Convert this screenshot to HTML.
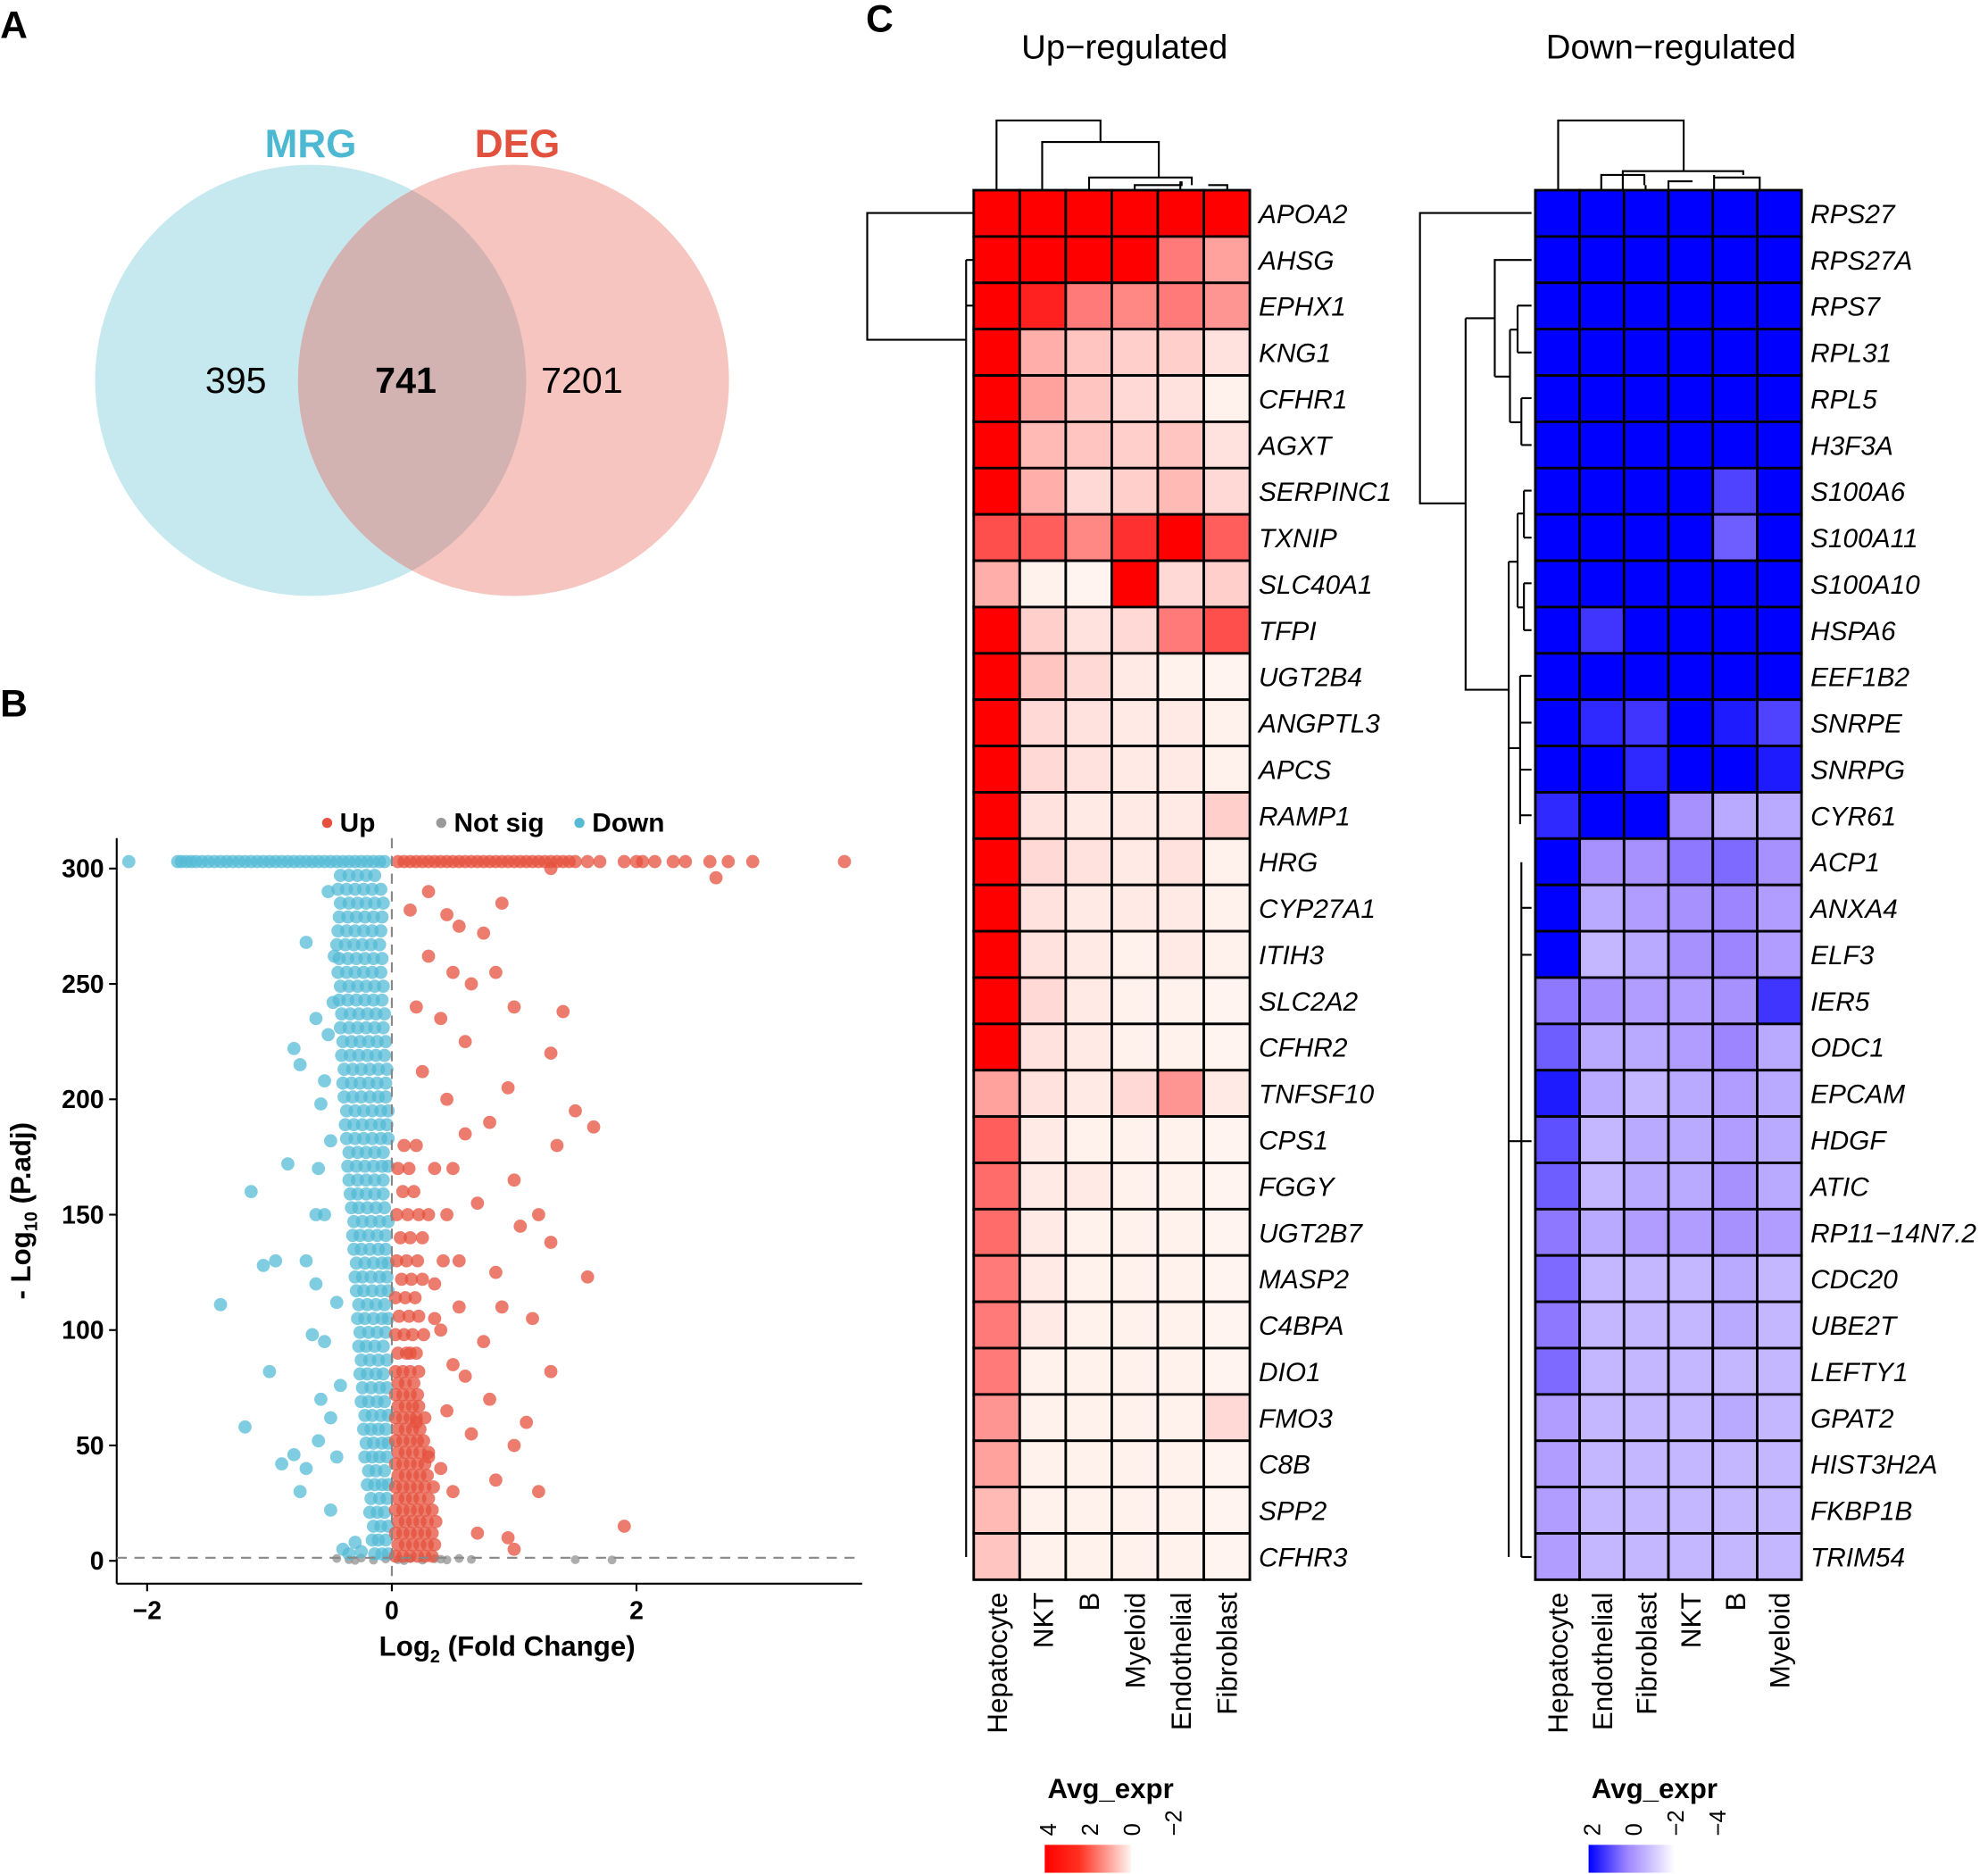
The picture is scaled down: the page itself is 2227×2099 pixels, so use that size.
<!DOCTYPE html>
<html><head><meta charset="utf-8"><style>
html,body{margin:0;padding:0;background:#fff}
svg{display:block}
text{font-family:"Liberation Sans",Arial,sans-serif}
</style></head><body>
<svg id="fig" xmlns="http://www.w3.org/2000/svg" width="2227" height="2099" viewBox="0 0 1568 1478">
<rect width="1568" height="1478" fill="#fff"/>
<g font-size="30" font-weight="bold">
<text x="0" y="30">A</text>
<text x="0" y="565">B</text>
<text x="683" y="25">C</text>
</g>
<g>
<circle cx="245" cy="300" r="170" fill="#c6e8ef"/>
<circle cx="405" cy="300" r="170" fill="#f6c5bf"/>
<clipPath id="cp"><circle cx="245" cy="300" r="170"/></clipPath>
<circle cx="405" cy="300" r="170" fill="#d3b3b2" clip-path="url(#cp)"/>
<text x="245" y="124" font-size="31" font-weight="bold" fill="#4cb8d2" text-anchor="middle">MRG</text>
<text x="408" y="124" font-size="31" font-weight="bold" fill="#e2513d" text-anchor="middle">DEG</text>
<text x="186" y="310" font-size="29" text-anchor="middle">395</text>
<text x="320" y="310" font-size="29" font-weight="bold" text-anchor="middle">741</text>
<text x="459" y="310" font-size="29" text-anchor="middle">7201</text>
</g>
<g id="volcano"></g>
<g id="heat"></g>
</svg>
<script>
// ---------- Volcano data ----------
const volXTicks=[-2,0,2];
const volYTicks=[0,50,100,150,200,250,300];
const downPts="-2.15,303;-1.75,303;-1.72,303;-1.68,303;-1.64,303;-1.6,303;-1.55,303;-1.5,303;-1.45,303;-1.4,303;-1.35,303;-1.3,303;-1.25,303;-1.2,303;-1.15,303;-1.1,303;-1.05,303;-1.0,303;-0.95,303;-0.9,303;-0.85,303;-0.8,303;-0.75,303;-0.7,303;-0.65,303;-0.6,303;-0.55,303;-0.5,303;-0.45,303;-0.4,303;-0.35,303;-0.3,303;-0.25,303;-0.2,303;-0.15,303;-0.1,303;-0.06,303;-1.4,111;-1.0,82;-1.2,58;-0.95,130;-1.05,128;-1.15,160;-0.85,172;-0.75,215;-0.7,268;-0.8,222;-0.62,235;-0.55,150;-0.65,98;-0.5,62;-0.8,46;-0.7,40;-0.9,42;-0.55,208;-0.62,120;-0.5,182;-0.47,262;-0.52,290;-0.48,242;-0.58,70;-0.7,130;-0.45,112;-0.42,76;-0.5,22;-0.6,52;-0.75,30;-0.45,45;-0.55,95;-0.6,170;-0.58,198;-0.52,228;-0.62,150;-0.4,5;-0.35,3;-0.3,8;-0.25,4";
const downBand="3:-0.14 -0.08 -0.03|9:-0.16 -0.11 -0.05|15:-0.15 -0.09 -0.03|21:-0.18 -0.12 -0.06|27:-0.17 -0.1 -0.04|33:-0.2 -0.14 -0.08 -0.03|39:-0.19 -0.13 -0.06|45:-0.22 -0.16 -0.1 -0.04|51:-0.21 -0.15 -0.08 -0.03|57:-0.23 -0.17 -0.11 -0.05|63:-0.22 -0.16 -0.09 -0.03|69:-0.25 -0.19 -0.12 -0.06|75:-0.24 -0.17 -0.1 -0.04|81:-0.26 -0.2 -0.13 -0.07|87:-0.25 -0.18 -0.11 -0.04|93:-0.27 -0.21 -0.14 -0.07|99:-0.26 -0.19 -0.12 -0.05|105:-0.28 -0.22 -0.15 -0.08 -0.03|111:-0.27 -0.2 -0.13 -0.06|117:-0.29 -0.23 -0.16 -0.09 -0.03|123:-0.3 -0.24 -0.17 -0.1 -0.04|129:-0.29 -0.22 -0.15 -0.08 -0.03|135:-0.31 -0.25 -0.18 -0.11 -0.05|141:-0.32 -0.26 -0.19 -0.12 -0.05|147:-0.31 -0.24 -0.17 -0.1 -0.03|153:-0.33 -0.27 -0.2 -0.13 -0.06|159:-0.34 -0.28 -0.21 -0.14 -0.07|165:-0.35 -0.28 -0.21 -0.14 -0.07|171:-0.36 -0.29 -0.22 -0.15 -0.08 -0.03|177:-0.35 -0.28 -0.21 -0.14 -0.07|183:-0.37 -0.3 -0.23 -0.16 -0.09 -0.03|189:-0.38 -0.31 -0.24 -0.17 -0.1 -0.04|195:-0.37 -0.3 -0.23 -0.16 -0.09 -0.03|201:-0.39 -0.32 -0.25 -0.18 -0.11 -0.05|207:-0.4 -0.33 -0.26 -0.19 -0.12 -0.05|213:-0.39 -0.32 -0.25 -0.18 -0.11 -0.04|219:-0.41 -0.34 -0.27 -0.2 -0.13 -0.06|225:-0.4 -0.33 -0.26 -0.19 -0.12 -0.05|231:-0.42 -0.35 -0.28 -0.21 -0.14 -0.07|237:-0.41 -0.34 -0.27 -0.2 -0.13 -0.06|243:-0.43 -0.36 -0.29 -0.22 -0.15 -0.08|249:-0.42 -0.35 -0.28 -0.21 -0.14 -0.07|255:-0.44 -0.37 -0.3 -0.23 -0.16 -0.09|261:-0.43 -0.36 -0.29 -0.22 -0.15 -0.08|267:-0.45 -0.38 -0.31 -0.24 -0.17 -0.1|273:-0.44 -0.37 -0.3 -0.23 -0.16 -0.09|279:-0.43 -0.36 -0.29 -0.22 -0.15 -0.08|285:-0.42 -0.35 -0.28 -0.21 -0.14 -0.07|291:-0.44 -0.37 -0.3 -0.23 -0.16 -0.09|297:-0.42 -0.35 -0.28 -0.21 -0.14";
const upPts="0.05,303;0.1,303;0.15,303;0.2,303;0.25,303;0.3,303;0.35,303;0.4,303;0.45,303;0.5,303;0.55,303;0.6,303;0.65,303;0.7,303;0.75,303;0.8,303;0.85,303;0.9,303;0.95,303;1.0,303;1.05,303;1.1,303;1.15,303;1.2,303;1.25,303;1.3,303;1.35,303;1.4,303;1.45,303;1.5,303;1.6,303;1.7,303;1.9,303;2.0,303;2.05,303;2.15,303;2.3,303;2.4,303;2.6,303;2.65,296;2.75,303;2.95,303;3.7,303;1.3,300"
+";0.9,285;0.75,272;0.85,255;0.55,275;0.65,250;1.0,240;1.4,238;1.3,220;1.5,195;1.35,180;1.65,188;1.3,138;1.6,123;1.0,165;0.8,190;0.6,225;0.45,200;0.7,155;1.15,105;1.3,82;0.9,110;0.55,130;0.35,170;0.25,212;0.2,240;0.3,262;0.15,282;0.4,100;0.6,80;0.8,70;1.0,50;1.2,30;0.95,10;0.5,30;0.3,45;0.2,60;0.15,90;0.35,120;0.45,150;0.25,140;1.9,15;1.0,5;0.7,12;0.85,35;0.65,55;1.1,60;0.75,95;0.5,170;0.4,235;0.5,255;1.2,150;0.95,205;1.05,145;0.6,185;0.85,125;0.3,290;0.45,280;0.4,40;0.45,65;0.5,85;0.35,105;0.3,150;0.42,130;0.55,110";
const upBand="2:0.03 0.09 0.15 0.21 0.27 0.33|7:0.05 0.11 0.17 0.23 0.29 0.35|12:0.03 0.09 0.15 0.21 0.27 0.33|17:0.05 0.11 0.17 0.23 0.29 0.36|22:0.03 0.09 0.15 0.21 0.27 0.33|27:0.05 0.11 0.17 0.23 0.3|32:0.03 0.09 0.15 0.21 0.27 0.34|37:0.05 0.11 0.17 0.23 0.29|42:0.03 0.09 0.15 0.21 0.27|47:0.05 0.11 0.17 0.23 0.3|52:0.03 0.09 0.15 0.21 0.26|57:0.05 0.11 0.17 0.23|62:0.03 0.09 0.15 0.2 0.27|67:0.05 0.11 0.17 0.22|72:0.03 0.09 0.15 0.21|77:0.05 0.11 0.18|82:0.03 0.09 0.15 0.22|90:0.05 0.12 0.2|98:0.03 0.1 0.17 0.26|106:0.06 0.14 0.22|114:0.03 0.11 0.19|122:0.08 0.16 0.25|130:0.04 0.12 0.21|140:0.07 0.15|150:0.04 0.13 0.22|160:0.09 0.18|170:0.05 0.14|180:0.1 0.2";
const nsPts="-0.45,1;-0.35,0.5;-0.25,1.2;-0.15,0.3;-0.05,0.8;0.05,0.5;0.15,1;0.25,0.3;0.35,0.9;0.45,0.4;0.55,1;0.65,0.6;1.5,0.5;1.8,0.4;-0.3,0.2;0.1,0.1;0.4,0.7";
function parse(s){return s.split(";").map(p=>p.split(",").map(Number));}
function parseRows(s){const out=[];s.split("|").forEach(r=>{const [y,xs]=r.split(":");xs.trim().split(" ").forEach(x=>out.push([+x,+y]));});return out;}
const downData=parse(downPts).concat(parseRows(downBand)), upData=parse(upPts).concat(parseRows(upBand)), nsData=parse(nsPts);
// ---------- Heatmap data ----------
const upGenes=["APOA2","AHSG","EPHX1","KNG1","CFHR1","AGXT","SERPINC1","TXNIP","SLC40A1","TFPI","UGT2B4","ANGPTL3","APCS","RAMP1","HRG","CYP27A1","ITIH3","SLC2A2","CFHR2","TNFSF10","CPS1","FGGY","UGT2B7","MASP2","C4BPA","DIO1","FMO3","C8B","SPP2","CFHR3"];
const upCells=["Hepatocyte","NKT","B","Myeloid","Endothelial","Fibroblast"];
const upVals=[[1,1,1,1,1,1],[1,1,1,1,.6,.45],[1,.9,.6,.55,.6,.5],[1,.4,.3,.25,.25,.15],[1,.45,.3,.2,.15,.05],[1,.35,.3,.25,.3,.15],[1,.4,.2,.25,.35,.2],[.75,.7,.55,.85,1,.7],[.4,.05,.02,1,.2,.25],[1,.25,.15,.2,.6,.75],[1,.3,.2,.1,.05,.02],[1,.2,.15,.1,.1,.05],[1,.2,.15,.1,.1,.05],[1,.15,.1,.1,.1,.25],[1,.2,.15,.1,.15,.05],[1,.15,.1,.1,.1,.05],[1,.15,.1,.05,.1,.05],[1,.2,.1,.05,.05,.02],[1,.15,.1,.05,.05,.02],[.45,.15,.1,.2,.5,.1],[.7,.1,.05,.05,.05,.02],[.65,.1,.1,.05,.05,.02],[.65,.1,.05,.05,.05,.02],[.6,.1,.05,.05,.05,.02],[.6,.1,.05,.05,.05,.02],[.6,.05,.05,.05,.05,.02],[.5,.05,.05,.05,.05,.2],[.45,.05,.05,.05,.05,.02],[.35,.05,.05,.05,.05,.02],[.3,.05,.05,.05,.05,.02]];
const downGenes=["RPS27","RPS27A","RPS7","RPL31","RPL5","H3F3A","S100A6","S100A11","S100A10","HSPA6","EEF1B2","SNRPE","SNRPG","CYR61","ACP1","ANXA4","ELF3","IER5","ODC1","EPCAM","HDGF","ATIC","RP11\u221214N7.2","CDC20","UBE2T","LEFTY1","GPAT2","HIST3H2A","FKBP1B","TRIM54"];
const downCells=["Hepatocyte","Endothelial","Fibroblast","NKT","B","Myeloid"];
const downVals=[[1,1,1,1,1,1],[1,1,1,1,1,1],[1,1,1,1,1,1],[1,1,1,1,1,1],[1,1,1,1,1,1],[1,1,1,1,1,1],[1,1,1,1,.75,1],[1,1,1,1,.65,1],[1,1,1,1,1,1],[1,.8,1,1,1,1],[1,1,1,1,1,1],[1,.85,.8,1,.9,.75],[1,1,.85,1,1,.9],[.85,1,1,.45,.35,.35],[1,.45,.45,.55,.6,.45],[1,.35,.4,.45,.5,.4],[1,.3,.35,.45,.5,.4],[.55,.45,.4,.4,.45,.8],[.65,.35,.35,.4,.5,.35],[.9,.35,.3,.35,.4,.35],[.7,.3,.35,.35,.4,.35],[.65,.3,.35,.35,.45,.35],[.55,.35,.4,.4,.45,.4],[.6,.3,.3,.3,.35,.3],[.55,.3,.3,.3,.35,.3],[.6,.3,.3,.3,.3,.3],[.4,.3,.3,.3,.35,.3],[.4,.3,.3,.3,.3,.3],[.4,.3,.3,.3,.3,.3],[.4,.3,.3,.3,.3,.3]];
const upLegendTicks=["4","2","0","\u22122"];
const downLegendTicks=["2","0","\u22122","\u22124"];

const NS="http://www.w3.org/2000/svg";
function mk(parent,tag,attrs,name,inter){const el=document.createElementNS(NS,tag);for(const k in attrs)el.setAttribute(k,attrs[k]);


parent.appendChild(el);return el;}

// ---------- Volcano ----------
const V=document.getElementById('volcano');
const xS=v=>309+v*96.5, yS=v=>1231-v*1.82;
mk(V,'line',{x1:92,y1:661,x2:92,y2:1249,stroke:'#000','stroke-width':1.5},'y-axis-line');
mk(V,'line',{x1:92,y1:1249,x2:680,y2:1249,stroke:'#000','stroke-width':1.5},'x-axis-line');
volYTicks.forEach(t=>{mk(V,'line',{x1:86,x2:92,y1:yS(t),y2:yS(t),stroke:'#000','stroke-width':1.5},'y-tick');
const tx=mk(V,'text',{x:82,y:yS(t)+7,'font-size':20,'font-weight':'bold','text-anchor':'end'},'y-tick-label');tx.textContent=t;});
volXTicks.forEach(t=>{mk(V,'line',{x1:xS(t),x2:xS(t),y1:1249,y2:1255,stroke:'#000','stroke-width':1.5},'x-tick');
const tx=mk(V,'text',{x:xS(t),y:1277,'font-size':20,'font-weight':'bold','text-anchor':'middle'},'x-tick-label');tx.textContent=t<0?'\u22122':t;});
nsData.forEach(d=>mk(V,'circle',{cx:xS(d[0]),cy:yS(d[1]),r:3.5,fill:'#999','fill-opacity':.8},'not-sig-point'));
downData.forEach(d=>mk(V,'circle',{cx:xS(d[0]),cy:yS(d[1]),r:5.2,fill:'#56bbd5','fill-opacity':.75},'down-point'));
upData.forEach(d=>mk(V,'circle',{cx:xS(d[0]),cy:yS(d[1]),r:5.2,fill:'#e5513e','fill-opacity':.75},'up-point'));
mk(V,'line',{x1:92,x2:680,y1:yS(1.3),y2:yS(1.3),stroke:'#888','stroke-width':1.5,'stroke-dasharray':'8,6'},'significance-threshold-line');
mk(V,'line',{x1:xS(0),x2:xS(0),y1:661,y2:1249,stroke:'#888','stroke-width':1.5,'stroke-dasharray':'8,6'},'zero-fold-change-line');
let t=mk(V,'text',{x:400,y:1306,'font-size':22,'font-weight':'bold','text-anchor':'middle'},'x-axis-title');
t.innerHTML='Log<tspan font-size="14" dy="5">2</tspan><tspan dy="-5"> (Fold Change)</tspan>';
t=mk(V,'text',{transform:'translate(24,955) rotate(-90)','font-size':22,'font-weight':'bold','text-anchor':'middle'},'y-axis-title');
t.innerHTML='- Log<tspan font-size="14" dy="5">10</tspan><tspan dy="-5"> (P.adj)</tspan>';
const lg=[['Up','#e5513e',258],['Not sig','#999',348],['Down','#56bbd5',457]];
lg.forEach(l=>{mk(V,'circle',{cx:l[2],cy:649,r:4,fill:l[1]},'legend-marker');
const tx=mk(V,'text',{x:l[2]+10,y:656,'font-size':21,'font-weight':'bold'},'legend-entry');tx.textContent=l[0];});

// ---------- Heatmaps ----------
const H=document.getElementById('heat');
function upCol(i){const k=Math.pow(i,1.35);return `rgb(255,${Math.round(245*(1-k))},${Math.round(240*(1-k))})`;}
function downCol(i){if(i>=.5){const f=(i-.5)/.5;return `rgb(${Math.round(157*(1-f))},${Math.round(133*(1-f))},255)`;}
const f=i/.5;return `rgb(${Math.round(255-98*f)},${Math.round(255-122*f)},255)`;}
function heat(x0,genes,cells,vals,colf,title,titleX,name){
const cw=(name==='up'?36.3:35),ch=36.53,y0=150;
const g=mk(H,'g',{},name+'-heatmap');
const tt=mk(g,'text',{x:titleX,y:46,'font-size':27,'text-anchor':'middle'},name+'-heatmap-title');tt.textContent=title;
vals.forEach((row,r)=>row.forEach((v,c)=>mk(g,'rect',{x:x0+c*cw,y:y0+r*ch,width:cw,height:ch,fill:colf(v),stroke:'#000','stroke-width':2},'heatmap-cell')));
genes.forEach((gn,r)=>{const tx=mk(g,'text',{x:x0+6*cw+7,y:y0+r*ch+26,'font-size':21,'font-style':'italic'},'gene-label');tx.textContent=gn;});
cells.forEach((cn,c)=>{const tx=mk(g,'text',{transform:`translate(${x0+c*cw+cw/2+8},${y0+30*ch+10}) rotate(-90)`,'font-size':22,'text-anchor':'end'},'cell-type-label');tx.textContent=cn;});
}
heat(768,upGenes,upCells,upVals,upCol,'Up\u2212regulated',887,'up');
heat(1211,downGenes,downCells,downVals,downCol,'Down\u2212regulated',1318,'down');

// dendrograms
const dg=mk(H,'g',{fill:'none',stroke:'#000','stroke-width':1.5},'dendrograms');
const paths=[
'M786,150V95H868V112M822,150V112H914V140M859,150V140H940V146M895,150V146H932V143M931,150V143M968,150V146H953',
'M768,168H684V268H762M762,205V1228M762,205H768M762,241H768M762,280V1228',
'M1229,150V95H1328V135M1280,150V135H1375V138M1263,150V138H1297V146M1298,150V146M1352,150V138M1388,150V140H1352M1316,150V143H1335',
'M1208,168H1120V397H1156M1156,251V544H1190M1208,205H1179V297M1179,251H1156M1179,297H1191M1191,260V333M1191,260H1197M1197,241V278M1197,241H1208M1197,278H1208M1191,333H1200M1200,314V351M1200,314H1208M1200,351H1208',
'M1190,443V1228M1190,443H1197M1197,405V479M1197,405H1202M1202,387V424M1202,387H1208M1202,424H1208M1197,479H1202M1202,460V497M1202,460H1208M1202,497H1208M1190,590H1199M1199,533V650M1199,533H1208M1199,570H1208M1199,607H1208M1199,643H1208M1190,900H1200M1200,680V1228M1200,716H1208M1200,753H1208M1200,900H1208M1200,1228H1208'
];
paths.forEach(p=>mk(dg,'path',{d:p},'dendrogram-branch'));

// legends
const defs=mk(document.getElementById('fig'),'defs',{},'gradient-defs');
defs.innerHTML='<linearGradient id="gU"><stop offset="0" stop-color="#ff0000"/><stop offset="0.4" stop-color="#ff3020"/><stop offset="1" stop-color="#fff5f0"/></linearGradient><linearGradient id="gD"><stop offset="0" stop-color="#0000ff"/><stop offset="0.45" stop-color="#9d85ff"/><stop offset="1" stop-color="#ffffff"/></linearGradient>';
function legend(x,grad,ticks,name){
const tx=mk(H,'text',{x:x+52,y:1418,'font-size':22,'font-weight':'bold','text-anchor':'middle'},name+'-legend-title');tx.textContent='Avg_expr';
mk(H,'rect',{x:x,y:1455,width:68,height:22,fill:`url(#${grad})`},name+'-legend-colorbar');
ticks.forEach((tk,i)=>{const t2=mk(H,'text',{transform:`translate(${x+9+i*33},1448) rotate(-90)`,'font-size':18},name+'-legend-tick');t2.textContent=tk;});
}
legend(824,'gU',upLegendTicks,'up');
legend(1253,'gD',downLegendTicks,'down');
</script>
</body></html>
